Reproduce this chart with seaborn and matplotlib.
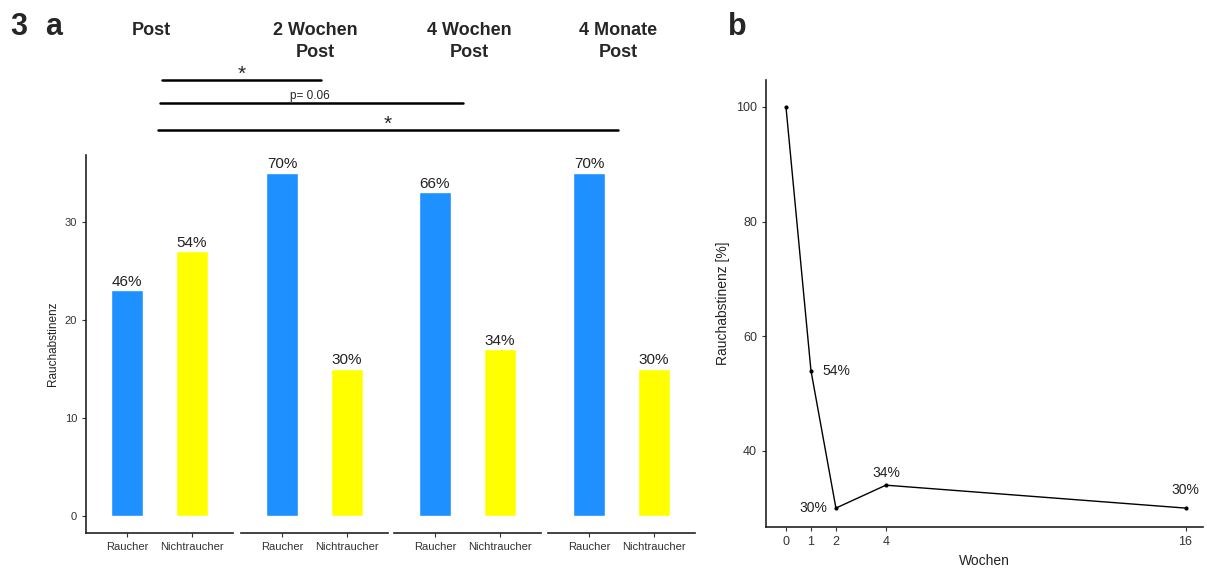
import pandas as pd
import seaborn as sns
import matplotlib.pyplot as plt
from matplotlib.lines import Line2D

# data for panel a
timepoints = ["Post", "2 Wochen\nPost", "4 Wochen\nPost", "4 Monate\nPost"]
groups = ["Raucher", "Nichtraucher"]
raucher = [23, 35, 33, 35]
nichtraucher = [27, 15, 17, 15]
raucher_pct = ["46%", "70%", "66%", "70%"]
nichtraucher_pct = ["54%", "30%", "34%", "30%"]

# data for panel b
wochen = [0, 1, 2, 4, 16]
abstinenz = [100, 54, 30, 34, 30]
abstinenz_lbl = ["", "54%", "30%", "34%", "30%"]

sns.set_theme(style="ticks")
plt.rcParams['font.family'] = ['Liberation Sans', 'DejaVu Sans']

W, H = 1207, 570
fig = plt.figure(figsize=(W / 100, H / 100), dpi=100)


def fx(px):
    return px / W


def fy(py):
    return 1 - py / H


palette = {"Raucher": "#1E90FF", "Nichtraucher": "#FFFF00"}
panel_left = [86, 241, 394, 548]
panel_w = 147
title_x = [151, 315, 469, 618]

for i, tp in enumerate(timepoints):
    ax = fig.add_axes([fx(panel_left[i]), fy(533), fx(panel_w), fy(155) - fy(533)])
    df = pd.DataFrame({"Gruppe": groups, "Wert": [raucher[i], nichtraucher[i]]})
    sns.barplot(data=df, x="Gruppe", y="Wert", hue="Gruppe", order=groups,
                hue_order=groups, palette=palette, width=0.5, legend=False,
                saturation=1, ax=ax)
    pcts = [raucher_pct[i], nichtraucher_pct[i]]
    for c, lab in zip(ax.containers, pcts):
        ax.bar_label(c, labels=[lab], padding=1, fontsize=11, color="#222222")
    ax.set_ylim(-1.75, 36.8)
    ax.set_xlim(-0.63, 1.63)
    ax.set_xlabel("")
    ax.set_ylabel("")
    ax.tick_params(axis="x", labelsize=8, length=3, width=0.8, colors="#333333")
    for s in ["top", "right"]:
        ax.spines[s].set_visible(False)
    ax.spines["bottom"].set_linewidth(1.2)
    ax.spines["bottom"].set_color("#222222")
    if i == 0:
        ax.set_yticks([0, 10, 20, 30])
        ax.tick_params(axis="y", labelsize=8, length=3, width=0.8, colors="#333333")
        ax.spines["left"].set_linewidth(1.2)
        ax.spines["left"].set_color("#222222")
        ax.set_ylabel("Rauchabstinenz", fontsize=8.5, color="#222222")
    else:
        ax.spines["left"].set_visible(False)
        ax.set_yticks([])
    fig.text(fx(title_x[i]), fy(22), tp, ha="center", va="top",
             fontsize=13, fontweight="bold", linespacing=1.4)

# significance brackets
sig = [(162, 321, 80, "*", 242, 15), (160, 463, 103, "p= 0.06", 310, 8.5),
       (158, 618, 130, "*", 388, 15)]
for x0, x1, yy, txt, tx, fs in sig:
    fig.add_artist(Line2D([fx(x0), fx(x1)], [fy(yy), fy(yy)], color="black", lw=1.8))
    fig.text(fx(tx), fy(yy + (4 if txt == "*" else -1)), txt, ha="center",
             va="bottom", fontsize=fs)

fig.text(fx(10), fy(12), "3", fontsize=22, fontweight="bold", va="top")
fig.text(fx(45), fy(12), "a", fontsize=22, fontweight="bold", va="top")
fig.text(fx(728), fy(12), "b", fontsize=22, fontweight="bold", va="top")

# panel b
axb = fig.add_axes([fx(766), fy(527), fx(437), fy(80) - fy(527)])
sns.lineplot(x=wochen, y=abstinenz, color="black", lw=1, marker="o",
             markersize=3, markeredgewidth=0, ax=axb)
axb.set_xlim(-0.8, 16.7)
axb.set_ylim(26.7, 104.7)
axb.set_xticks(wochen)
axb.set_yticks([40, 60, 80, 100])
axb.tick_params(labelsize=9, length=3, width=0.8, colors="#333333")
axb.set_xlabel("Wochen", fontsize=10, color="#222222")
axb.set_ylabel("Rauchabstinenz [%]", fontsize=10, color="#222222")
for s in ["top", "right"]:
    axb.spines[s].set_visible(False)
for s in ["left", "bottom"]:
    axb.spines[s].set_linewidth(1.2)
    axb.spines[s].set_color("#222222")

offsets = [(0, 0, "center", "center"), (8, 0, "left", "center"),
           (-6, 0, "right", "center"), (0, 4, "center", "bottom"),
           (0, 8, "center", "bottom")]
for xv, yv, lab, (dx, dy, ha, va) in zip(wochen, abstinenz, abstinenz_lbl, offsets):
    if lab:
        axb.annotate(lab, (xv, yv), xytext=(dx, dy), textcoords="offset points",
                     ha=ha, va=va, fontsize=10, color="#222222")

fig.savefig("out.png", dpi=100)
